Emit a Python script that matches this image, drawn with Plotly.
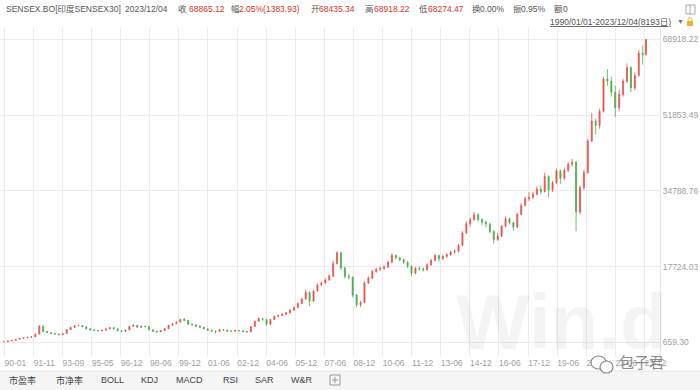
import plotly.graph_objects as go

# ---------------- data ----------------
bar_index = list(range(0, 8151, 50)) + [8192]   # trading-day number of each sampled candle

opens = [760, 780, 950, 1100, 1340, 1550, 1650, 1780, 1900, 2500,
         4300, 3100, 2850, 2650, 2530, 2350, 2600, 3500, 4000, 4400,
         4450, 4150, 3700, 3450, 3300, 3250, 3400, 3650, 3950, 3700,
         3250, 3100, 3450, 4250, 4500, 4050, 4250, 4200, 3500, 3150,
         3050, 3300, 3750, 4500, 4850, 5200, 5800, 5600, 4750, 4600,
         4300, 4050, 3700, 3400, 3200, 3100, 3500, 3420, 3200, 3150,
         3350, 3250, 3050, 3000, 4200, 5400, 6000, 5800, 4700, 5800,
         6500, 6700, 7000, 7300, 7900, 8500, 9400, 10400, 11900, 9900,
         12200, 13600, 14000, 14700, 15600, 18400, 20800, 17400, 15500, 15300,
         11300, 9100, 9600, 14000, 15100, 16600, 17100, 17300, 17600, 18700,
         20200, 19700, 19300, 18700, 17800, 16200, 17300, 17200, 17000, 18100,
         19100, 20200, 19500, 20000, 20400, 21000, 21200, 22500, 25300, 27400,
         28300, 29400, 28300, 27700, 27300, 25600, 23800, 24600, 26800, 28500,
         27600, 26600, 29500, 31500, 33000, 33300, 34000, 35200, 34600, 38000,
         35000, 36600, 39300, 37600, 39400, 40800, 41200, 30000, 35500, 38900,
         46000, 50500, 49500, 52700, 60000, 59500, 57000, 53500, 56500, 59500,
         62500, 58000, 60800, 65800, 65500]
highs = [800, 980, 1130, 1380, 1600, 1720, 1830, 1960, 2600, 4470,
         4400, 3250, 2950, 2750, 2600, 2700, 3600, 4150, 4550, 4640,
         4550, 4200, 3800, 3550, 3400, 3500, 3750, 4100, 4000, 3750,
         3350, 3550, 4350, 4650, 4550, 4350, 4350, 4250, 3550, 3250,
         3400, 3850, 4600, 5000, 5400, 5950, 6150, 5650, 4900, 4700,
         4400, 4100, 3750, 3500, 3300, 3600, 3650, 3500, 3300, 3450,
         3400, 3300, 3150, 4300, 5500, 6250, 6100, 5900, 5900, 6650,
         6900, 7200, 7500, 8100, 8750, 9650, 10700, 12600, 12100, 12500,
         13900, 14400, 15000, 16000, 19000, 21200, 21000, 17700, 16000, 15500,
         11500, 10000, 14400, 15500, 17000, 17500, 17800, 18100, 19100, 20700,
         20500, 19900, 19500, 18900, 18000, 17700, 17700, 17500, 18500, 19500,
         20600, 20400, 20400, 20800, 21300, 21600, 22800, 25700, 27900, 28800,
         30000, 29700, 28600, 28100, 27600, 25900, 25300, 27100, 29000, 28700,
         27800, 29800, 32000, 33500, 34500, 34600, 35800, 36000, 38900, 38300,
         37000, 39800, 39600, 40000, 41300, 42000, 41500, 36000, 39500, 46500,
         52300, 51000, 53300, 60400, 62200, 60500, 58500, 57500, 60000, 63500,
         62800, 61500, 66500, 67500, 68918]
lows = [740, 770, 930, 1080, 1310, 1500, 1600, 1740, 1880, 2480,
        2950, 2750, 2550, 2450, 2250, 2300, 2580, 3450, 3950, 4300,
        4050, 3600, 3350, 3200, 3150, 3200, 3350, 3600, 3600, 3150,
        2950, 3050, 3400, 4200, 3950, 4000, 4050, 3400, 3000, 2800,
        2950, 3250, 3700, 4400, 4750, 5100, 5400, 4600, 4450, 4150,
        3950, 3550, 3300, 3100, 2600, 3050, 3350, 3100, 3050, 3100,
        3150, 2950, 2900, 2950, 4150, 5300, 5500, 4300, 4600, 5700,
        6350, 6550, 6900, 7200, 7800, 8400, 9300, 10300, 8800, 9800,
        12100, 13300, 13800, 14500, 15400, 18200, 16800, 15000, 14800, 10800,
        8500, 8600, 9500, 13800, 14900, 16300, 16700, 17000, 17400, 18500,
        19300, 18900, 18300, 17400, 15600, 16000, 16800, 16600, 16800, 17900,
        18900, 18800, 19200, 19700, 20100, 20600, 20900, 22300, 25100, 26700,
        28000, 27800, 27000, 26600, 25200, 22900, 23500, 24400, 26600, 27200,
        25800, 26400, 29300, 31300, 32500, 33000, 33800, 34000, 34400, 33300,
        34500, 36300, 36400, 37300, 39000, 40200, 25700, 29500, 35000, 38600,
        45800, 47500, 48800, 52400, 58500, 56000, 51400, 52800, 56000, 59000,
        57000, 57500, 60500, 63200, 65200]
closes = [780, 950, 1100, 1340, 1550, 1650, 1780, 1900, 2500, 4300,
          3100, 2850, 2650, 2530, 2350, 2600, 3500, 4000, 4400, 4450,
          4150, 3700, 3450, 3300, 3250, 3400, 3650, 3950, 3700, 3250,
          3100, 3450, 4250, 4500, 4050, 4250, 4200, 3500, 3150, 3050,
          3300, 3750, 4500, 4850, 5200, 5800, 5600, 4750, 4600, 4300,
          4050, 3700, 3400, 3200, 3100, 3500, 3420, 3200, 3150, 3350,
          3250, 3050, 3000, 4200, 5400, 6000, 5800, 4700, 5800, 6500,
          6700, 7000, 7300, 7900, 8500, 9400, 10400, 11900, 9900, 12200,
          13600, 14000, 14700, 15600, 18400, 20800, 17400, 15500, 15300, 11300,
          9100, 9600, 14000, 15100, 16600, 17100, 17300, 17600, 18700, 20200,
          19700, 19300, 18700, 17800, 16200, 17300, 17200, 17000, 18100, 19100,
          20200, 19500, 20000, 20400, 21000, 21200, 22500, 25300, 27400, 28300,
          29400, 28300, 27700, 27300, 25600, 23800, 24600, 26800, 28500, 27600,
          26600, 29500, 31500, 33000, 33300, 34000, 35200, 34600, 38000, 35000,
          36600, 39300, 37600, 39400, 40800, 41200, 30000, 35500, 38900, 46000,
          50500, 49500, 52700, 60000, 59500, 57000, 53500, 56500, 59500, 62500,
          58000, 60800, 65800, 65500, 68865.12]

tick_labels = ["90-01", "91-11", "93-09", "95-05", "96-12", "98-06", "99-12",
               "01-06", "02-12", "04-06", "05-12", "07-06", "08-12", "10-06",
               "11-12", "13-06", "14-12", "16-06", "17-12", "19-06", "20-12",
               "22-06", "23-12"]
y_ticks = [659.30, 17724.03, 34788.76, 51853.49, 68918.22]

header_labels = ["收", "幅", "开", "高", "低", "换", "振", "额"]
header_values = ["68865.12", "2.05%(1383.93)", "68435.34", "68918.22",
                 "68274.47", "0.00%", "0.95%", "0"]
tabs = ["市盈率", "市净率", "BOLL", "KDJ", "MACD", "RSI", "SAR", "W&R"]

# ---------------- layout helpers ----------------
W, H = 700, 390
ML, MR, MT, MB = 0, 40, 28, 34
PW, PH = W - ML - MR, H - MT - MB
FONT = "Liberation Sans, Arial, Noto Sans CJK SC, sans-serif"


def px(x):
    return (x - ML) / PW


def py(y):
    return (H - MB - y) / PH


fig = go.Figure()
fig.add_trace(go.Candlestick(
    x=bar_index, open=opens, high=highs, low=lows, close=closes,
    increasing=dict(line=dict(color="#e4554d", width=0.8), fillcolor="#e4554d"),
    decreasing=dict(line=dict(color="#4aad4e", width=0.8), fillcolor="#4aad4e"),
    whiskerwidth=0, hoverinfo="skip", showlegend=False,
))

tick_pos = [round(3.8 + k * 371.3) for k in range(len(tick_labels))]

fig.update_layout(
    width=W, height=H,
    margin=dict(l=ML, r=MR, t=MT, b=MB, autoexpand=False),
    paper_bgcolor="white", plot_bgcolor="white",
    font=dict(family=FONT, size=9, color="#999999"),
    showlegend=False,
    boxgap=0.55,
    xaxis=dict(
        range=[-51, 8371], rangeslider=dict(visible=False),
        tickvals=tick_pos, ticktext=tick_labels, ticklabelshift=11,
        showgrid=True, gridcolor="#ececec", gridwidth=1,
        zeroline=False, showline=False, ticks="", automargin=False,
        tickfont=dict(size=8.5, color="#a0a0a0"),
    ),
    yaxis=dict(
        range=[-2427, 71464], side="right",
        tickvals=y_ticks, ticktext=[f"{v:.2f}" for v in y_ticks],
        showgrid=True, gridcolor="#ececec", gridwidth=1,
        zeroline=False, showline=True, linecolor="#e6e6e6", ticks="",
        automargin=False,
        tickfont=dict(size=8.5, color="#a0a0a0"),
    ),
)

ann = []
# watermark
ann.append(dict(x=px(562), y=py(322), xref="paper", yref="paper", text="<b>Win.d</b>",
                showarrow=False, font=dict(size=78, color="rgba(0,0,0,0.045)", family=FONT),
                xanchor="center", yanchor="middle"))

# header row 1
HF = 8.5
hy = py(9)
ann.append(dict(x=px(4), y=hy, text="SENSEX.BO[印度SENSEX30]", font=dict(color="#555555", size=HF)))
ann.append(dict(x=px(123), y=hy, text="2023/12/04", font=dict(color="#555555", size=HF)))
lab_x = [176, 229, 309, 363, 417, 470, 511, 552]
val_x = [187, 237, 317, 372, 426, 478, 519, 561]
for i, (lab, val) in enumerate(zip(header_labels, header_values)):
    ann.append(dict(x=px(lab_x[i]), y=hy, text=lab, font=dict(color="#555555", size=HF)))
    vcol = "#d7332c" if i < 5 else "#555555"
    ann.append(dict(x=px(val_x[i]), y=hy, text=val, font=dict(color=vcol, size=HF)))

# header row 2
ann.append(dict(x=px(673), y=py(22), text="<u>1990/01/01-2023/12/04(8193日)</u>",
                font=dict(color="#555555", size=HF), xanchor="right"))
ann.append(dict(x=px(675), y=py(21.5), text="▼", font=dict(color="#777777", size=7)))

# tabs
tab_x = [7, 54, 99, 139, 174, 221, 253, 289]
for t, x in zip(tabs, tab_x):
    ann.append(dict(x=px(x), y=py(380), text=t, font=dict(color="#444444", size=9)))

# wechat watermark text
ann.append(dict(x=px(617), y=py(362), text="包子君", font=dict(color="#8c8c8c", size=15)))

for a in ann:
    a.setdefault("xref", "paper")
    a.setdefault("yref", "paper")
    a.setdefault("showarrow", False)
    a.setdefault("xanchor", "left")
    a.setdefault("yanchor", "middle")
    a["font"].setdefault("family", FONT)
fig.update_layout(annotations=ann)

shapes = [
    # tab row background
    dict(type="rect", xref="paper", yref="paper", x0=px(0), x1=px(W), y0=py(H), y1=py(371),
         fillcolor="#f5f5f5", line=dict(width=0), layer="below"),
    dict(type="line", xref="paper", yref="paper", x0=px(0), x1=px(W), y0=py(371), y1=py(371),
         line=dict(color="#e6e6e6", width=1)),
    # "+" box icon
    dict(type="rect", xref="paper", yref="paper", x0=px(330), x1=px(340), y0=py(385), y1=py(375),
         line=dict(color="#999999", width=1)),
    dict(type="line", xref="paper", yref="paper", x0=px(332), x1=px(338), y0=py(380), y1=py(380),
         line=dict(color="#999999", width=1)),
    dict(type="line", xref="paper", yref="paper", x0=px(335), x1=px(335), y0=py(377), y1=py(383),
         line=dict(color="#999999", width=1)),
    # top-right layout icon
    dict(type="rect", xref="paper", yref="paper", x0=px(686), x1=px(695), y0=py(14), y1=py(5),
         line=dict(color="#aaaaaa", width=1)),
    dict(type="line", xref="paper", yref="paper", x0=px(690), x1=px(690), y0=py(14), y1=py(5),
         line=dict(color="#aaaaaa", width=1)),
    # lock icon
    dict(type="rect", xref="paper", yref="paper", x0=px(687), x1=px(693), y0=py(26), y1=py(21),
         fillcolor="#f0b429", line=dict(width=0)),
    dict(type="circle", xref="paper", yref="paper", x0=px(688), x1=px(692), y0=py(23), y1=py(17.5),
         line=dict(color="#f0b429", width=1)),
    # wechat bubbles
    dict(type="circle", xref="paper", yref="paper", x0=px(591), x1=px(606), y0=py(369), y1=py(356),
         fillcolor="white", line=dict(color="#8c8c8c", width=1.2)),
    dict(type="circle", xref="paper", yref="paper", x0=px(600), x1=px(613), y0=py(373), y1=py(361),
         fillcolor="white", line=dict(color="#8c8c8c", width=1.2)),
]
fig.update_layout(shapes=shapes)

fig.write_html("out.html", config={"displayModeBar": False, "staticPlot": True},
               post_script="document.body.style.margin='0';document.body.style.overflow='hidden';")
